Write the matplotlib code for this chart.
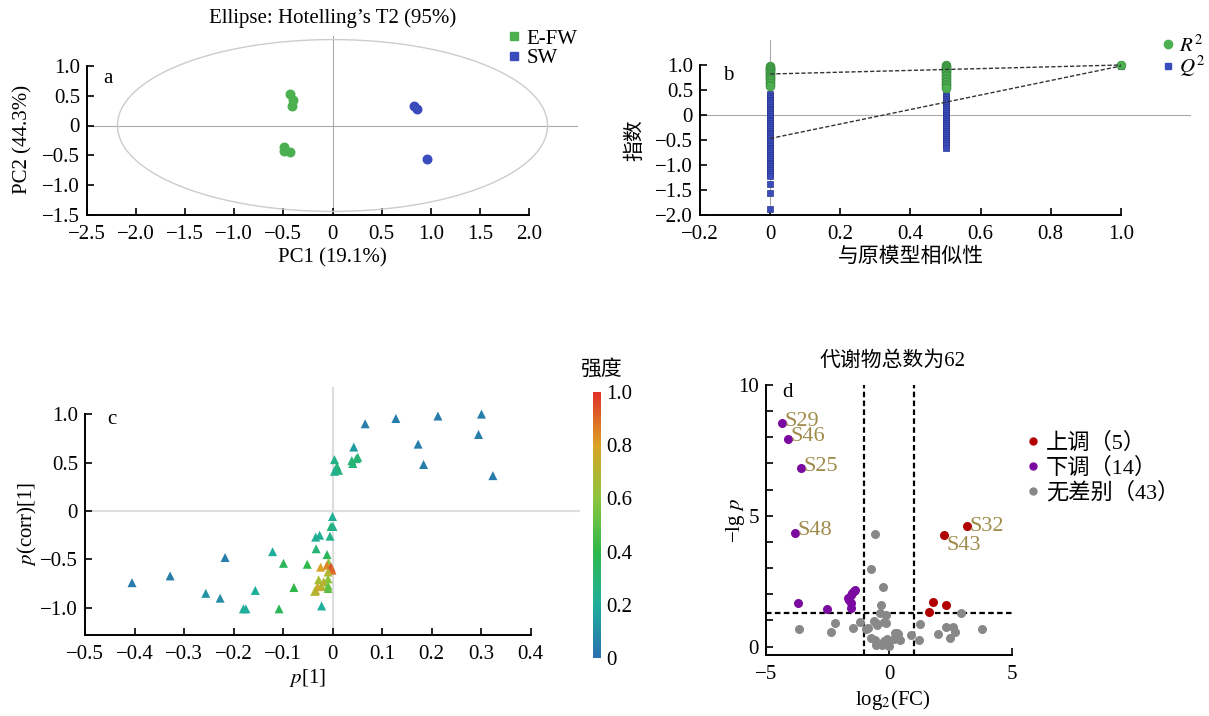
import numpy as np
import matplotlib
matplotlib.use("Agg")
import matplotlib.pyplot as plt
from matplotlib.colors import LinearSegmentedColormap
from matplotlib.lines import Line2D

plt.rcParams['font.family'] = ['Liberation Serif', 'Noto Sans CJK SC']
plt.rcParams['mathtext.fontset'] = 'stix'
plt.rcParams['axes.unicode_minus'] = True

# ---- panel a: PCA scores ----
efw_pc1 = [-0.43, -0.40, -0.41, -0.49, -0.49, -0.43]
efw_pc2 = [0.53, 0.43, 0.32, -0.36, -0.42, -0.44]
sw_pc1 = [0.83, 0.86, 0.96]
sw_pc2 = [0.32, 0.27, -0.56]
ellipse_a, ellipse_b = 2.19, 1.44

# ---- panel b: permutation test ----
r2_sim0 = [0.98, 0.97, 0.95, 0.93, 0.92, 0.90, 0.88, 0.86, 0.85, 0.83, 0.81, 0.79, 0.77,
           0.75, 0.72, 0.70, 0.67, 0.64, 0.61, 0.59]
r2_sim05 = [1.0, 0.98, 0.97, 0.95, 0.93, 0.91, 0.89, 0.87, 0.84, 0.81, 0.78, 0.75, 0.72,
            0.69, 0.66, 0.63, 0.60, 0.57, 0.54]
r2_sim1 = [1.0]
q2_sim0 = [0.42, 0.39, 0.35, 0.31, 0.28, 0.24, 0.21, 0.17, 0.13, 0.10, 0.06, 0.02, -0.01,
           -0.05, -0.09, -0.12, -0.16, -0.20, -0.23, -0.27, -0.31, -0.35, -0.38, -0.42,
           -0.46, -0.50, -0.53, -0.57, -0.61, -0.65, -0.68, -0.72, -0.76, -0.80, -0.83,
           -0.87, -0.91, -0.95, -0.98, -1.02, -1.06, -1.10, -1.14, -1.18, -1.22,
           -1.38, -1.55, -1.88]
q2_sim05 = [0.97, 0.40, 0.36, 0.32, 0.28, 0.24, 0.20, 0.16, 0.12, 0.08, 0.04, 0.0,
            -0.04, -0.08, -0.12, -0.16, -0.20, -0.24, -0.28, -0.32, -0.36, -0.40,
            -0.44, -0.48, -0.52, -0.56, -0.60, -0.65]
q2_sim1 = [0.98]
r2_intercept, q2_intercept = 0.82, -0.47
r2_orig, q2_orig = 1.0, 0.98

# ---- panel c: S-plot ----
p1 = [0.066, 0.128, 0.213, 0.301, 0.295, 0.173, 0.184, 0.324, 0.043, 0.004, 0.051, 0.048,
      0.041, 0.009, 0.012, 0.004, 0.039,
      -0.405, -0.328, -0.217, -0.256, -0.227, -0.180, -0.175, -0.156, -0.121, -0.099,
      -0.108, -0.078, -0.051, -0.034, -0.026, -0.033, -0.005, -0.003, 0.001, 0.0,
      -0.011, -0.022,
      -0.008, -0.011, -0.003, -0.001, -0.024, -0.009, -0.009, -0.028, -0.018, -0.009,
      -0.022, -0.030, -0.034, -0.009, -0.036]
pcorr = [0.90, 0.955, 0.98, 1.0, 0.79, 0.69, 0.48, 0.365, 0.66, 0.53, 0.554, 0.54,
         0.49, 0.46, 0.42, 0.41, 0.52,
         -0.74, -0.67, -0.48, -0.85, -0.90, -1.01, -1.01, -0.82, -0.42, -0.54,
         -1.01, -0.79, -0.55, -0.27, -0.25, -0.39, -0.26, -0.16, -0.16, -0.057,
         -0.45, -0.98,
         -0.53, -0.56, -0.58, -0.61, -0.58, -0.63, -0.70, -0.71, -0.73, -0.77,
         -0.78, -0.78, -0.82, -0.80, -0.83]
intensity = [0.05, 0.05, 0.05, 0.05, 0.05, 0.05, 0.05, 0.04, 0.14, 0.25, 0.30, 0.30,
             0.27, 0.28, 0.28, 0.24, 0.30,
             0.04, 0.05, 0.05, 0.12, 0.10, 0.20, 0.20, 0.20, 0.20, 0.36,
             0.36, 0.40, 0.40, 0.22, 0.22, 0.30, 0.25, 0.30, 0.25, 0.22,
             0.35, 0.20,
             0.60, 0.85, 0.95, 0.90, 0.80, 0.70, 0.60, 0.65, 0.70, 0.55,
             0.70, 0.75, 0.75, 0.50, 0.70]

# ---- panel d: volcano ----
up_fc = [3.16, 2.24, 1.79, 2.33, 1.63]
up_p = [4.62, 4.28, 1.72, 1.59, 1.34]
down_fc = [-4.35, -4.12, -3.58, -3.82, -3.70, -2.52, -1.67, -1.62, -1.56, -1.49, -1.42,
           -1.39, -1.53, -1.53]
down_p = [8.53, 7.95, 6.82, 4.34, 1.68, 1.43, 1.85, 1.80, 1.97, 2.06, 2.12, 2.18,
          1.68, 1.48]
ns_fc = [-0.58, -0.74, -0.26, -0.31, -0.38, -0.13, -1.19, -0.62, -0.54, -0.21, -0.11,
         -0.95, -1.46, -2.21, -2.34, -3.67, -0.72, -0.58, -0.51, -0.21, -0.15, -0.04,
         -0.07, 0.23, 0.33, 0.43, 0.91, 1.25, 1.22, 1.99, 2.33, 2.47, 2.60, 2.67, 2.94,
         3.77, -0.48, -0.10, 0.0, -0.30, 0.20, -0.85, 0.35]
ns_p = [4.29, 2.96, 2.27, 1.59, 1.30, 1.21, 0.95, 0.98, 0.89, 0.95, 0.89, 0.66, 0.73,
        0.89, 0.57, 0.66, 0.32, 0.26, 0.06, 0.23, 0.15, 0.06, 0.28, 0.53, 0.53, 0.26,
        0.45, 0.85, 0.26, 0.48, 0.76, 0.34, 0.74, 0.55, 1.27, 0.66, 0.82, 0.12, 0.02,
        0.05, 0.30, 0.70, 0.50]
labels_left = ['S29', 'S46', 'S25', 'S48']
labels_right = ['S32', 'S43']
fc_cut, p_cut = 1.0, 1.3

W, H = 1209, 716
FS = 15


def box(l, t, r, b):
    return [l / W, 1 - b / H, (r - l) / W, (b - t) / H]


def fmt(v):
    if abs(v) < 1e-9:
        return '0'
    return f'{v:.1f}'.replace('-', '\u2212')


def style(ax, xb, yb):
    for s in ['top', 'right']:
        ax.spines[s].set_visible(False)
    for s in ['left', 'bottom']:
        ax.spines[s].set_linewidth(1.4)
    ax.spines['bottom'].set_bounds(*xb)
    ax.spines['left'].set_bounds(*yb)
    ax.tick_params(direction='in', length=5, width=1.2, labelsize=FS)
    ax.tick_params(axis='x', pad=7)
    ax.tick_params(axis='y', pad=5)


fig = plt.figure(figsize=(W / 100, H / 100), dpi=100)

# panel a
ax = fig.add_axes(box(87, 36, 578, 215))
ax.set_xlim(-2.5, 2.5)
ax.set_ylim(-1.5, 1.5)
ax.axhline(0, color='#aaaaaa', lw=0.8, zorder=0)
ax.axvline(0, color='#aaaaaa', lw=0.8, zorder=0)
t = np.linspace(0, 2 * np.pi, 300)
ax.plot(ellipse_a * np.cos(t), ellipse_b * np.sin(t), color='#cccccc', lw=1)
ax.scatter(efw_pc1, efw_pc2, s=38, color='#4cb050', zorder=3)
ax.scatter(sw_pc1, sw_pc2, s=38, color='#3a4cbc', zorder=3)
style(ax, (-2.5, 2.0), (-1.5, 1.0))
xt = [-2.5, -2.0, -1.5, -1.0, -0.5, 0, 0.5, 1.0, 1.5, 2.0]
ax.set_xticks(xt, [fmt(v) for v in xt])
yt = [-1.5, -1.0, -0.5, 0, 0.5, 1.0]
ax.set_yticks(yt, [fmt(v) for v in yt])
ax.text(-2.33, 0.78, 'a', fontsize=FS, va='center')
ax.text(0.5, 1.10, 'Ellipse: Hotelling\u2019s T2 (95%)', transform=ax.transAxes,
        ha='center', va='center', fontsize=FS)
ax.text(0.5, -0.24, 'PC1 (19.1%)', transform=ax.transAxes, ha='center', va='center', fontsize=FS)
ax.text(-0.13, 0.42, 'PC2 (44.3%)', transform=ax.transAxes, ha='center', va='center',
        rotation=90, fontsize=FS)
h = [Line2D([], [], ls='', marker='s', ms=6, color='#4cb050'),
     Line2D([], [], ls='', marker='s', ms=6, color='#3a4cbc')]
ax.legend(h, ['E-FW', 'SW'], loc='upper left', bbox_to_anchor=(508 / W, 1 - 29 / H),
          bbox_transform=fig.transFigure, frameon=False, fontsize=FS, handlelength=0.6,
          handletextpad=0.3, labelspacing=0.0, borderaxespad=0, borderpad=0)

# panel b
ax = fig.add_axes(box(700, 40, 1191, 215))
ax.set_xlim(-0.2, 1.2)
ax.set_ylim(-2.0, 1.5)
ax.axhline(0, color='#aaaaaa', lw=0.8, zorder=0)
ax.axvline(0, color='#aaaaaa', lw=0.8, zorder=0)
ax.plot([0, 1], [r2_intercept, r2_orig], color='#333333', lw=1, ls=(0, (3, 1.5)), zorder=4)
ax.plot([0, 1], [q2_intercept, q2_orig], color='#333333', lw=1, ls=(0, (3, 1.5)), zorder=4)
q_x = [0] * len(q2_sim0) + [0.5] * len(q2_sim05) + [1] * len(q2_sim1)
r_x = [0] * len(r2_sim0) + [0.5] * len(r2_sim05) + [1] * len(r2_sim1)
ax.scatter(q_x, q2_sim0 + q2_sim05 + q2_sim1, marker='s', s=22, color='#3a4cbc',
           edgecolor='#2a388f', lw=0.5, zorder=2)
ax.scatter(r_x, r2_sim0 + r2_sim05 + r2_sim1, marker='o', s=40, color='#4cb050',
           edgecolor='#3a9040', lw=0.5, zorder=3)
style(ax, (-0.2, 1.0), (-2.0, 1.0))
xt = [-0.2, 0, 0.2, 0.4, 0.6, 0.8, 1.0]
ax.set_xticks(xt, [fmt(v) for v in xt])
yt = [-2.0, -1.5, -1.0, -0.5, 0, 0.5, 1.0]
ax.set_yticks(yt, [fmt(v) for v in yt])
ax.text(-0.135, 0.78, 'b', fontsize=FS, va='center')
ax.text(0.43, -0.24, '与原模型相似性', transform=ax.transAxes, ha='center', va='center', fontsize=FS)
ax.text(-0.13, 0.43, '指数', transform=ax.transAxes, ha='center', va='center',
        rotation=90, fontsize=FS)
h = [Line2D([], [], ls='', marker='o', ms=6, color='#4cb050'),
     Line2D([], [], ls='', marker='s', ms=5, color='#3a4cbc')]
ax.legend(h, ['$R^2$', '$Q^2$'], loc='upper left', bbox_to_anchor=(1162 / W, 1 - 35 / H),
          bbox_transform=fig.transFigure, frameon=False, fontsize=FS, handlelength=0.6,
          handletextpad=0.2, labelspacing=-0.12, borderaxespad=0, borderpad=0)

# panel c
cmap = LinearSegmentedColormap.from_list(
    'inten', ['#2a6fb0', '#1fae9c', '#2eb84a', '#8cc63e', '#dba326', '#e0302a'])
ax = fig.add_axes(box(85, 387, 580, 635))
ax.set_xlim(-0.5, 0.5)
ax.set_ylim(-1.28, 1.28)
ax.axhline(0, color='#dddddd', lw=1.5, zorder=0)
ax.axvline(0, color='#dddddd', lw=1.5, zorder=0)
sc = ax.scatter(p1, pcorr, c=intensity, cmap=cmap, vmin=0, vmax=1, marker='^', s=42,
                edgecolor='none', zorder=3)
style(ax, (-0.5, 0.4), (-1.28, 1.0))
xt = [-0.5, -0.4, -0.3, -0.2, -0.1, 0, 0.1, 0.2, 0.3, 0.4]
ax.set_xticks(xt, [fmt(v) for v in xt])
yt = [-1.0, -0.5, 0, 0.5, 1.0]
ax.set_yticks(yt, [fmt(v) for v in yt])
ax.text(-0.455, 0.94, 'c', fontsize=FS, va='center')
ax.text(0.45, -0.173, '$p$[1]', transform=ax.transAxes, ha='center', va='center', fontsize=FS)
ax.text(-0.117, 0.45, '$p$(corr)[1]', transform=ax.transAxes, ha='center', va='center',
        rotation=90, fontsize=FS)
cax = fig.add_axes(box(593, 392, 601, 658))
cb = fig.colorbar(sc, cax=cax)
cb.outline.set_visible(False)
ct = [0, 0.2, 0.4, 0.6, 0.8, 1.0]
cb.set_ticks(ct, labels=[fmt(v) for v in ct])
cax.tick_params(length=0, labelsize=FS, pad=4)
fig.text(601 / W, 1 - 370 / H, '强度', ha='center', va='center', fontsize=FS)

# panel d
ax = fig.add_axes(box(766, 385, 1012, 655))
ax.set_xlim(-5, 5)
ax.set_ylim(-0.32, 10)
dash = (0, (2.5, 1.5))
ax.axvline(-fc_cut, color='black', lw=1.6, ls=dash, zorder=1)
ax.axvline(fc_cut, color='black', lw=1.6, ls=dash, zorder=1)
ax.axhline(p_cut, color='black', lw=1.6, ls=dash, zorder=1)
ax.scatter(ns_fc, ns_p, s=30, color='#888888', zorder=2)
ax.scatter(down_fc, down_p, s=30, color='#7b0aa0', zorder=3)
ax.scatter(up_fc, up_p, s=30, color='#b00000', zorder=3)
for i, lab in enumerate(labels_left):
    ax.text(down_fc[i] + 0.12, down_p[i] + 0.08, lab, color='#a08c4a', fontsize=16, va='center')
ax.text(up_fc[0] + 0.12, up_p[0] - 0.04, labels_right[0], color='#a08c4a', fontsize=16, va='center')
ax.text(up_fc[1] + 0.1, up_p[1] - 0.4, labels_right[1], color='#a08c4a', fontsize=16, va='center')
style(ax, (-5, 5), (-0.32, 10))
ax.set_xticks([-5, 0, 5], ['\u22125', '0', '5'])
ax.set_yticks(range(0, 11), ['0', '', '', '', '', '5', '', '', '', '', '10'])
ax.text(-4.35, 9.73, 'd', fontsize=FS, va='center')
ax.text(0.516, 1.09, '代谢物总数为62', transform=ax.transAxes, ha='center', va='center', fontsize=FS)
ax.text(0.516, -0.167, 'log$_2$(FC)', transform=ax.transAxes, ha='center', va='center', fontsize=FS)
ax.text(-0.126, 0.5, '\u2212lg $p$', transform=ax.transAxes, ha='center', va='center',
        rotation=90, fontsize=FS)
h = [Line2D([], [], ls='', marker='o', ms=5, color='#b00000'),
     Line2D([], [], ls='', marker='o', ms=5, color='#7b0aa0'),
     Line2D([], [], ls='', marker='o', ms=5, color='#888888')]
ax.legend(h, ['上调（5）', '下调（14）', '无差别（43）'], loc='upper left',
          bbox_to_anchor=(1026 / W, 1 - 433 / H), bbox_transform=fig.transFigure,
          frameon=False, fontsize=16, handlelength=0.6, handletextpad=0.3,
          labelspacing=0.15, borderaxespad=0, borderpad=0)

fig.savefig('out.png', dpi=100)
